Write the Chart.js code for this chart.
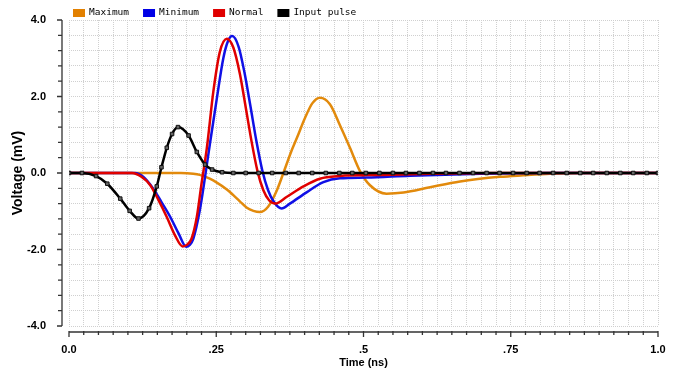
<!DOCTYPE html>
<html>
<head>
<meta charset="utf-8">
<script src="https://cdn.jsdelivr.net/npm/chart.js@4.4.1/dist/chart.umd.min.js"></script>
<style>
  html, body { margin: 0; padding: 0; background: #fff; }
  #wrap { width: 679px; height: 372px; position: relative; }
</style>
</head>
<body>
<div id="wrap"><canvas id="pulses"></canvas></div>
<script>
// Valeurs (temps en ns, tension en mV)
var maxT = [0, 0.15, 0.19, 0.211, 0.222, 0.239, 0.251, 0.268, 0.279, 0.29, 0.302, 0.313, 0.324, 0.338, 0.353, 0.364, 0.378, 0.387, 0.401, 0.413, 0.426, 0.443, 0.46, 0.477, 0.494, 0.511, 0.539, 0.568, 0.613, 0.664, 0.732, 0.771, 0.817, 0.868, 1.0];
var maxV = [0, 0, 0, -0.02, -0.05, -0.15, -0.25, -0.43, -0.58, -0.74, -0.91, -0.99, -1.02, -0.88, -0.45, 0, 0.59, 0.92, 1.45, 1.82, 1.97, 1.8, 1.25, 0.66, 0.05, -0.32, -0.54, -0.51, -0.37, -0.22, -0.1, -0.06, -0.02, 0, 0];

var minT = [0, 0.1, 0.112, 0.126, 0.143, 0.157, 0.172, 0.186, 0.199, 0.205, 0.211, 0.222, 0.231, 0.239, 0.251, 0.262, 0.27, 0.277, 0.288, 0.298, 0.308, 0.318, 0.328, 0.338, 0.348, 0.361, 0.375, 0.404, 0.432, 0.46, 0.505, 0.579, 0.698, 0.817, 1.0];
var minV = [0, 0, 0, -0.1, -0.41, -0.76, -1.15, -1.58, -1.93, -1.88, -1.72, -0.98, -0.1, 0.74, 1.95, 3.0, 3.45, 3.58, 3.3, 2.62, 1.75, 0.85, 0.08, -0.45, -0.76, -0.93, -0.8, -0.5, -0.24, -0.14, -0.12, -0.07, -0.02, 0, 0];

var normT = [0, 0.1, 0.107, 0.123, 0.138, 0.152, 0.166, 0.18, 0.193, 0.2, 0.208, 0.217, 0.225, 0.234, 0.245, 0.256, 0.268, 0.279, 0.29, 0.3, 0.31, 0.32, 0.33, 0.34, 0.35, 0.37, 0.398, 0.426, 0.46, 0.528, 0.613, 0.73, 1.0];
var normV = [0, 0, 0, -0.1, -0.32, -0.71, -1.15, -1.63, -1.92, -1.88, -1.72, -1.15, -0.28, 0.65, 2.12, 3.16, 3.51, 3.28, 2.6, 1.72, 0.82, 0.05, -0.45, -0.72, -0.8, -0.62, -0.35, -0.15, -0.08, -0.05, -0.02, 0, 0];

var pulseT = [0, 0.022, 0.046, 0.065, 0.087, 0.103, 0.118, 0.136, 0.149, 0.157, 0.166, 0.175, 0.185, 0.203, 0.217, 0.231, 0.243, 0.26, 0.279, 0.3, 0.322, 0.345, 0.368, 0.39, 0.413, 0.436, 0.459, 0.481, 0.504, 0.527, 0.55, 0.572, 0.595, 0.618, 0.64, 0.663, 0.686, 0.709, 0.731, 0.754, 0.777, 0.799, 0.822, 0.845, 0.868, 0.89, 0.913, 0.936, 0.958, 0.981, 1.0];
var pulseV = [0, 0, -0.08, -0.28, -0.67, -0.99, -1.19, -0.92, -0.35, 0.15, 0.66, 1.02, 1.2, 0.98, 0.55, 0.22, 0.09, 0.02, 0, 0, 0, 0, 0, 0, 0, 0, 0, 0, 0, 0, 0, 0, 0, 0, 0, 0, 0, 0, 0, 0, 0, 0, 0, 0, 0, 0, 0, 0, 0, 0, 0];

var seriesNames = ['Maximum', 'Minimum', 'Normal', 'Input pulse'];
var xLabelValues = [0, 0.25, 0.5, 0.75, 1.0];
var xLabelTexts = ['0.0', '.25', '.5', '.75', '1.0'];
var yLabelValues = [4, 2, 0, -2, -4];
var yLabelTexts = ['4.0', '2.0', '0.0', '-2.0', '-4.0'];

function toPoints(ts, vs) {
  return ts.map(function (t, i) { return {x: t, y: vs[i]}; });
}
function labelFor(values, texts, v) {
  for (var i = 0; i < values.length; i++) {
    if (Math.abs(values[i] - v) < 1e-6) return texts[i];
  }
  return '';
}

// axes decales du cadre, comme sur l'original
var axesPlugin = {
  id: 'detachedAxes',
  afterDraw: function (chart) {
    var ctx = chart.ctx, a = chart.chartArea;
    var xs = chart.scales.x, ys = chart.scales.y;
    ctx.save();
    ctx.strokeStyle = '#333';
    ctx.lineWidth = 1.3;
    // axe Y
    var ax = a.left - 7;
    ctx.beginPath();
    ctx.moveTo(ax, ys.getPixelForValue(4));
    ctx.lineTo(ax, ys.getPixelForValue(-4));
    ys.ticks.forEach(function (t) {
      var py = ys.getPixelForValue(t.value);
      var len = labelFor(yLabelValues, yLabelTexts, t.value) ? 5 : 4;
      ctx.moveTo(ax - len, py);
      ctx.lineTo(ax, py);
    });
    ctx.stroke();
    // axe X
    var ay = a.bottom + 6;
    ctx.beginPath();
    ctx.moveTo(xs.getPixelForValue(0), ay);
    ctx.lineTo(xs.getPixelForValue(1), ay);
    xs.ticks.forEach(function (t) {
      var px = xs.getPixelForValue(t.value);
      var len = labelFor(xLabelValues, xLabelTexts, t.value) ? 5 : 3;
      ctx.moveTo(px, ay - 1);
      ctx.lineTo(px, ay + len);
    });
    ctx.stroke();
    ctx.restore();
  }
};

// legende en haut a gauche
var legendPlugin = {
  id: 'topLegend',
  afterDraw: function (chart) {
    var ctx = chart.ctx;
    ctx.save();
    ctx.font = "9.5px 'DejaVu Sans Mono'";
    ctx.textBaseline = 'middle';
    var x = 73, y = 13;
    chart.data.datasets.forEach(function (ds) {
      ctx.fillStyle = ds.legendColor;
      ctx.fillRect(x, y - 4, 12, 8);
      x += 16;
      ctx.fillStyle = '#000';
      ctx.fillText(ds.label, x, y);
      x += ctx.measureText(ds.label).width + 14;
    });
    ctx.restore();
  }
};

var tickFont = {family: "'Liberation Sans', Arial, sans-serif", size: 11, weight: 'bold'};

var config = {
  type: 'line',
  data: {
    datasets: [{
      label: seriesNames[0],
      data: toPoints(maxT, maxV),
      borderColor: 'rgb(226, 138, 12)',
      legendColor: 'rgb(226, 128, 0)',
      borderWidth: 2.5,
      cubicInterpolationMode: 'monotone',
      pointRadius: 0,
      order: 3
    }, {
      label: seriesNames[1],
      data: toPoints(minT, minV),
      borderColor: 'rgb(16, 16, 230)',
      legendColor: 'rgb(0, 0, 230)',
      borderWidth: 2.5,
      cubicInterpolationMode: 'monotone',
      pointRadius: 0,
      order: 2
    }, {
      label: seriesNames[2],
      data: toPoints(normT, normV),
      borderColor: 'rgb(224, 0, 0)',
      legendColor: 'rgb(224, 0, 0)',
      borderWidth: 2.5,
      cubicInterpolationMode: 'monotone',
      pointRadius: 0,
      order: 1
    }, {
      label: seriesNames[3],
      data: toPoints(pulseT, pulseV),
      borderColor: '#000',
      legendColor: '#000',
      borderWidth: 2.5,
      cubicInterpolationMode: 'monotone',
      pointStyle: 'rect',
      pointRadius: 2.5,
      pointBackgroundColor: '#666',
      pointBorderColor: '#111',
      pointBorderWidth: 1,
      order: 0
    }]
  },
  options: {
    responsive: true,
    maintainAspectRatio: false,
    devicePixelRatio: 1,
    animation: false,
    layout: {padding: {top: 20, right: 21, left: 0, bottom: 0}},
    plugins: {legend: {display: false}, tooltip: {enabled: false}},
    scales: {
      x: {
        type: 'linear',
        min: 0,
        max: 1,
        afterFit: function (s) {
          s.height = 46;
          s.paddingLeft = 0;
          s.paddingRight = 0;
        },
        ticks: {
          stepSize: 0.025,
          autoSkip: false,
          maxRotation: 0,
          padding: 17,
          color: '#000',
          font: tickFont,
          callback: function (v) { return labelFor(xLabelValues, xLabelTexts, v); }
        },
        grid: {color: '#d0d0d0', drawTicks: false},
        border: {display: false, dash: [1, 1]},
        title: {
          display: true,
          text: 'Time (ns)',
          color: '#000',
          font: {family: "'Liberation Sans', Arial, sans-serif", size: 11, weight: 'bold'},
          padding: {top: 0, bottom: 2}
        }
      },
      y: {
        min: -4,
        max: 4,
        afterFit: function (s) {
          s.width = 69;
          s.paddingTop = 0;
          s.paddingBottom = 0;
        },
        ticks: {
          stepSize: 0.4,
          autoSkip: false,
          padding: 23,
          color: '#000',
          font: tickFont,
          callback: function (v) { return labelFor(yLabelValues, yLabelTexts, v); }
        },
        grid: {color: '#d0d0d0', drawTicks: false},
        border: {display: false, dash: [1, 1]},
        title: {
          display: true,
          text: 'Voltage (mV)',
          color: '#000',
          font: {family: "'Liberation Sans', Arial, sans-serif", size: 14, weight: 'bold'},
          padding: {top: 10, bottom: 0}
        }
      }
    }
  },
  plugins: [axesPlugin, legendPlugin]
};

var pulsesChart = new Chart(document.getElementById('pulses'), config);
</script>
</body>
</html>
